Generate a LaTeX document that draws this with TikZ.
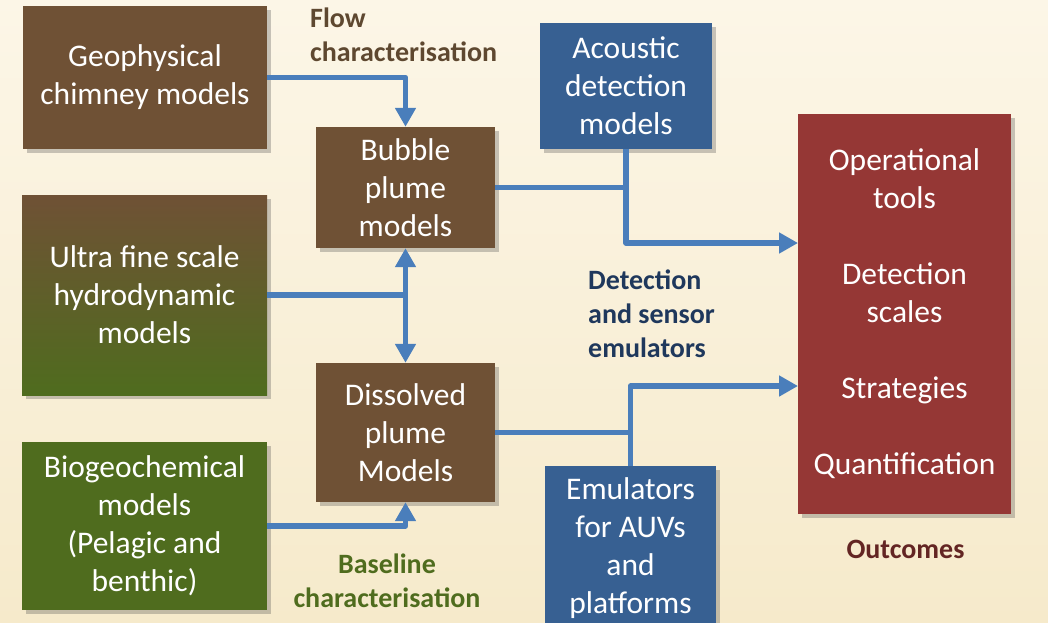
\documentclass[tikz,border=0pt]{standalone}
\usepackage{fontspec}
\setmainfont{Carlito}
\usetikzlibrary{arrows.meta, shadows}

\definecolor{plumebrown}{RGB}{111,81,53}
\definecolor{modelgreen}{RGB}{79,108,30}
\definecolor{sensorblue}{RGB}{55,96,146}
\definecolor{outcomered}{RGB}{149,55,53}
\definecolor{linkblue}{RGB}{74,126,187}
\definecolor{bgtop}{RGB}{252,246,231}
\definecolor{bgbottom}{RGB}{246,234,203}
\definecolor{tagbrown}{RGB}{94,72,48}
\definecolor{tagblue}{RGB}{31,56,92}
\definecolor{tagred}{RGB}{99,37,35}

\tikzset{
	model/.style={draw=none, text=white, align=center, inner sep=0pt,
		font=\fontsize{31.5}{38}\selectfont,
		drop shadow={shadow xshift=4pt, shadow yshift=-4pt, fill=black!70, opacity=0.3}},
	link/.style={draw=linkblue, line width=5.5pt, line join=round},
	flow/.style={link, -{Triangle[length=19pt, width=20pt]}},
	tag/.style={font=\bfseries\fontsize{28}{34}\selectfont, inner sep=0pt},
}

\begin{document}
\begin{tikzpicture}[x=1pt, y=-1pt]
	\useasboundingbox (0,0) rectangle (1048,622);
	\clip (0,0) rectangle (1048,622);
	\shade [top color=bgtop, bottom color=bgbottom] (0,0) rectangle (1048,622);

	% input models
	\node[model, fill=plumebrown, minimum width=244pt, minimum height=143pt] (geo) at (145,77.5) {Geophysical\\chimney models};
	\node[model, top color=plumebrown, bottom color=modelgreen, minimum width=245pt, minimum height=200pt] (ultra) at (144.5,295) {Ultra fine scale\\hydrodynamic\\models};
	\node[model, fill=modelgreen, minimum width=245pt, minimum height=168pt] (bio) at (144.5,526) {Biogeochemical\\models\\(Pelagic and\\benthic)};

	% plume models
	\node[model, fill=plumebrown, minimum width=179pt, minimum height=121pt] (bubble) at (405.5,187.5) {Bubble\\plume\\models};
	\node[model, fill=plumebrown, minimum width=179pt, minimum height=139pt] (dissolved) at (405.5,432.5) {Dissolved\\plume\\Models};

	% sensors
	\node[model, fill=sensorblue, minimum width=172pt, minimum height=126pt] (acoustic) at (626,86) {Acoustic\\detection\\models};
	\node[model, fill=sensorblue, minimum width=171pt, minimum height=164pt] (emul) at (630.5,548) {Emulators\\for AUVs\\and\\platforms};

	\node[model, fill=outcomered, minimum width=213pt, minimum height=400pt] (outcomes) at (904.5,314) {Operational\\tools\\[38pt]Detection\\scales\\[38pt]Strategies\\[38pt]Quantification};

	\coordinate (out top) at (798,243);
	\coordinate (out low) at (798,386);

	\draw[flow] (geo.east) -| (bubble.north);
	\draw[link] (ultra.east) -- (ultra.east -| bubble.south);
	\draw[link, {Triangle[length=19pt, width=20pt]}-{Triangle[length=19pt, width=20pt]}] (bubble.south) -- (dissolved.north);
	\draw[flow] (bio.east) -| (dissolved.south);

	\draw[link] (bubble.east) -- (bubble.east -| acoustic.south);
	\draw[flow] (acoustic.south) |- (out top);
	\draw[link] (dissolved.east) -- (dissolved.east -| emul.north);
	\draw[flow] (emul.north) |- (out low);

	% labels: base anchor sits on the last line
	\node[tag, text=tagbrown, align=left, anchor=base west] (flow tag) at (310,61) {Flow\\characterisation};
	\node[tag, text=tagblue, align=left, anchor=base west] (sensor tag) at (588,357) {Detection\\and sensor\\emulators};
	\node[tag, text=modelgreen, align=center, anchor=base] (base tag) at (387,607) {Baseline\\characterisation};
	\node[tag, text=tagred, anchor=base] (out tag) at (905.5,558) {Outcomes};
\end{tikzpicture}
\end{document}
